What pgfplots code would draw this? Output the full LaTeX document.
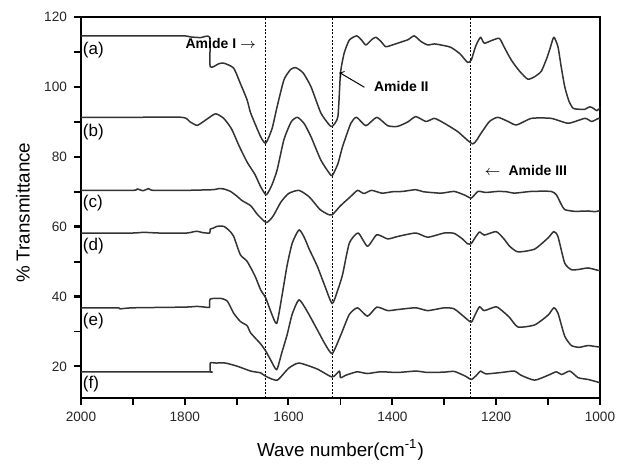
\documentclass[border=0pt]{standalone}
\usepackage{fontspec}
\setmainfont{Liberation Sans}
\usepackage{pgfplots}
\pgfplotsset{compat=1.18}

\begin{document}
\begin{tikzpicture}
\begin{axis}[
    scale only axis, width=259.5pt, height=190.5pt,
    x dir=reverse, xmin=1000, xmax=2000, ymin=11, ymax=120,
    xtick={1000,1200,...,2000}, ytick={20,40,...,120},
    % tick marks drawn as minor ticks (majors nudged so they are not dropped)
    minor xtick={1000.4,1100,1200.4,1300,1400.4,1500,1600.4,1700,1800.4,1900,1999.6},
    minor ytick={20.1,30,40.1,50,60.1,70,80.1,90,100.1,110,119.9},
    xtick pos=bottom, ytick pos=left,
    xtick align=outside, ytick align=outside,
    major tick length=3.5pt, minor tick length=3.5pt,
    major tick style={draw=black, line width=0.9pt},
    minor tick style={draw=black, line width=0.9pt},
    axis line style={line width=0.8pt},
    /pgf/number format/assume math mode=true,
    /pgf/number format/set thousands separator={},
    tick label style={font=\fontsize{6.8}{8}\selectfont, black!85},
    xlabel={Wave number(cm\textsuperscript{-1})}, ylabel={\% Transmittance},
    label style={font=\fontsize{9.4}{11}\selectfont},
    xlabel style={at={(axis description cs:0.5,-0.1365)}, anchor=center},
    ylabel style={at={(axis description cs:-0.112,0.486)}, anchor=center},
    clip=false,
    spec/.style={black!80, line width=0.75pt, line join=round, smooth, tension=0.35},
]
% vertical dashed guide lines
\draw[black, line width=0.45pt, dash pattern=on 1pt off 0.8pt]
  (axis cs:1645,11) -- (axis cs:1645,120)
  (axis cs:1516,11) -- (axis cs:1516,120)
  (axis cs:1249,11) -- (axis cs:1249,120);

% (a)
\addplot[spec] coordinates {(2000,114.6) (1900,114.6) (1803,114.6) (1790,114.3) (1770,114.1)
  (1752,114.2) (1751,105.8) (1735,106.6) (1725,106.8) (1706,105.4) (1693,101) (1680,96.3)
  (1673,92.5) (1654,85.8) (1644,83.9) (1632,88) (1622,94.4) (1609,102) (1596,105)
  (1586,105.5) (1572,104) (1557,100.1) (1538,92.6) (1522,89.2) (1516,88.7) (1505,91.5)
  (1500,103.9) (1493,109.6) (1483,113.4) (1469,114.6) (1460,113.5) (1451,112) (1440,113.5)
  (1432,114.2) (1422,113) (1413,111.5) (1400,112) (1390,112.5) (1370,113.5) (1358,114.6)
  (1345,113) (1332,112) (1319,112.3) (1300,111.8) (1287,111.3) (1270,109.5) (1255,107)
  (1248,107.7) (1241,111) (1237,112.5) (1230,114.2) (1223,112.5) (1210,113.2) (1194,113.9)
  (1185,111.5) (1171,107.7) (1155,104.5) (1139,102.2) (1125,103) (1113,104.5) (1103,108)
  (1097,110.6) (1089,114.2) (1081,111.5) (1075,106) (1068,100.1) (1060,96) (1052,93.9)
  (1040,93.6) (1029,93.6) (1020,94.3) (1013,93.9) (1006,93.2) (1000,94)};
% (b)
\addplot[spec] coordinates {(2000,91.3) (1900,91.3) (1805,91.3) (1790,90) (1776,89.0) (1760,90.5)
  (1741,92.3) (1725,91.0) (1710,88) (1695,83) (1680,78.5) (1665,75) (1654,71.5) (1643,69.1)
  (1632,72) (1622,76.3) (1609,84.9) (1595,90) (1583,91.3) (1570,89.5) (1557,85.8)
  (1538,79.1) (1522,75.4) (1516,74.6) (1505,78) (1496,82.9) (1480,89.6) (1469,91.3)
  (1451,88.9) (1430,91.3) (1409,88.9) (1390,88.7) (1370,90) (1355,91.5) (1335,90.1)
  (1319,91.0) (1300,89.6) (1274,87.2) (1245,83.7) (1229,86.8) (1213,90.1) (1197,91.3)
  (1177,90.1) (1161,89.1) (1132,91.0) (1094,91) (1061,89.6) (1029,91) (1016,90.1)
  (1003,91) (1000,90.8)};
% (c)
\addplot[spec] coordinates {(2000,70.4) (1900,70.4) (1892,70.8) (1880,70.3) (1870,70.9) (1861,70.4)
  (1800,70.4) (1745,70.6) (1735,70.9) (1725,70.8) (1712,70.1) (1700,68.8) (1690,67.5)
  (1673,66) (1660,63.5) (1643,61.2) (1630,63) (1615,67) (1600,69.5) (1580,70.4) (1560,68.5)
  (1540,65) (1525,63.6) (1516,63.4) (1500,66) (1480,68.7) (1467,70.4) (1455,69.5)
  (1440,70.4) (1420,69.6) (1400,70) (1380,70.1) (1355,70.6) (1340,70.0) (1306,69.6)
  (1281,70.1) (1260,69) (1248,68.2) (1235,70.1) (1220,69.8) (1197,70.1) (1180,70.0)
  (1165,69.6) (1132,70.1) (1094,70.1) (1084,69.1) (1075,66.5) (1068,64.9) (1049,64.4)
  (1023,64.5) (1010,64.3) (1000,64.6)};
% (d)
\addplot[spec] coordinates {(2000,58.2) (1900,58.2) (1880,58.4) (1850,58.2) (1796,58.2) (1785,58.5)
  (1776,58.7) (1765,58.3) (1752,58.2) (1751,59.3) (1745,59.6) (1738,60.1) (1725,60.1)
  (1715,59) (1706,57.3) (1693,52) (1680,50.1) (1665,46) (1654,42) (1644,39.6) (1635,36)
  (1623,32.3) (1613,40) (1603,48.8) (1593,55.3) (1580,59.1) (1570,57) (1560,53.5)
  (1545,48.8) (1530,43) (1516,38.0) (1505,42) (1496,46.3) (1483,55.3) (1466,58.2)
  (1448,54.4) (1430,57.7) (1409,56.5) (1390,57.2) (1355,58.2) (1332,57.0) (1300,58.2)
  (1281,58.1) (1265,56.5) (1255,55.1) (1248,55.2) (1240,57) (1232,58.5) (1223,57.6)
  (1200,58.6) (1185,56.5) (1174,54.4) (1158,52.8) (1126,53.6) (1100,56.8) (1089,58.6)
  (1081,57.2) (1068,49.6) (1055,47.7) (1040,47.8) (1023,48.2) (1003,47.5) (1000,47.6)};
% (e)
\addplot[spec] coordinates {(2000,36.8) (1930,36.8) (1925,36.5) (1900,36.8) (1800,37) (1776,37.2)
  (1755,36.9) (1752,36.9) (1751,39.3) (1731,39.5) (1718,38.7) (1706,35.3) (1693,32.9)
  (1680,31.7) (1673,29.6) (1654,26.5) (1644,24.4) (1635,22) (1623,19.1) (1613,24)
  (1603,29) (1593,35) (1580,39.1) (1565,36) (1545,30.6) (1530,26.5) (1516,23.7) (1500,28.8)
  (1483,34.9) (1467,36.8) (1448,34.4) (1430,37.0) (1409,36.0) (1390,36.3) (1355,36.8)
  (1332,36.0) (1300,36.8) (1281,36.5) (1260,34) (1248,32.7) (1240,35) (1232,37.1)
  (1223,36.0) (1200,37.1) (1185,35.5) (1174,34.0) (1158,31.3) (1126,31.9) (1100,34.7)
  (1089,36.8) (1081,35.3) (1068,28.7) (1055,26.0) (1040,25.5) (1023,26.0) (1003,25.6)
  (1000,25.7)};
% (f)
\addplot[spec] coordinates {(2000,18.5) (1760,18.5) (1751.5,18.5) (1751,21.0) (1740,21.0) (1722,21.0) (1699,20.1)
  (1673,18.7) (1654,18.2) (1644,17.2) (1622,16.1) (1600,19.5) (1580,21.0) (1545,19.3)
  (1516,17.0) (1502,18.7) (1500,16.8) (1490,17.5) (1480,18.0) (1467,18.5) (1448,18.0)
  (1423,18.5) (1390,18.3) (1355,18.7) (1332,18.3) (1300,18.4) (1281,18.6) (1260,17.3)
  (1248,16.3) (1238,17.5) (1230,18.7) (1220,17.9) (1190,18.3) (1165,18.7) (1152,17.5)
  (1126,16.1) (1100,17.5) (1084,18.5) (1074,17.7) (1058,18.7) (1042,16.8) (1023,16.3)
  (1003,15.5) (1000,15.3)};

% curve labels
\node[anchor=west, inner sep=0pt, font=\fontsize{8.5}{10}\selectfont] at (axis cs:1997,110.6) {(a)};
\node[anchor=west, inner sep=0pt, font=\fontsize{8.5}{10}\selectfont] at (axis cs:1997,87.1) {(b)};
\node[anchor=west, inner sep=0pt, font=\fontsize{8.5}{10}\selectfont] at (axis cs:1997,66.8) {(c)};
\node[anchor=west, inner sep=0pt, font=\fontsize{8.5}{10}\selectfont] at (axis cs:1997,54.4) {(d)};
\node[anchor=west, inner sep=0pt, font=\fontsize{8.5}{10}\selectfont] at (axis cs:1997,32.9) {(e)};
\node[anchor=west, inner sep=0pt, font=\fontsize{8.5}{10}\selectfont] at (axis cs:1997,14.9) {(f)};

% annotations
\node[anchor=east, inner sep=0pt, font=\bfseries\fontsize{7}{8}\selectfont]
  at (axis cs:1662,112.3) {Amide I $\rightarrow$};
\draw[->, line width=0.5pt, black] (axis cs:1454,99.9) -- (axis cs:1502,104.1);
\node[anchor=west, inner sep=0pt, font=\bfseries\fontsize{7}{8}\selectfont]
  at (axis cs:1436,100.1) {Amide II};
\node[anchor=west, inner sep=0pt, font=\fontsize{7}{8}\selectfont]
  at (axis cs:1223,76) {$\leftarrow$\hspace{4pt}\textbf{Amide III}};
\end{axis}
\path (-40.5pt,-30.5pt) rectangle (273.5pt,199pt);
\end{tikzpicture}
\end{document}
